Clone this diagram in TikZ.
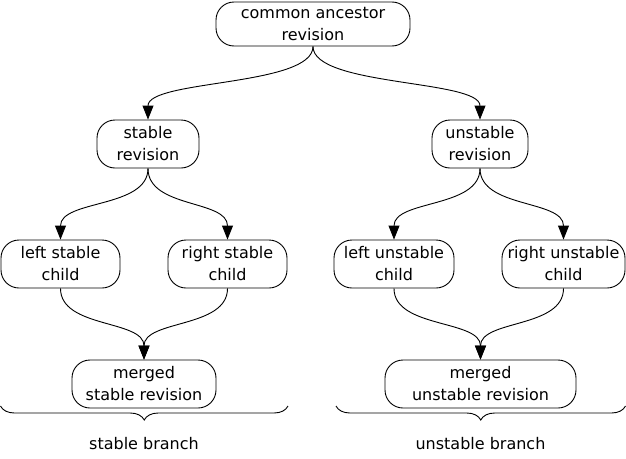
\documentclass[tikz,border=0pt]{standalone}
\usepackage{fontspec}
\setmainfont{DejaVu Sans}
\usetikzlibrary{arrows.meta,decorations.pathreplacing}
\begin{document}
\begin{tikzpicture}[x=1pt,y=-1pt,line width=0.9pt,
  box/.style={draw,rounded corners=18pt,align=center,inner sep=0pt,font=\fontsize{16}{22}\selectfont},
  arr/.style={-{Triangle[width=11pt,length=14pt]}},
  lbl/.style={font=\fontsize{16}{22}\selectfont}]
\useasboundingbox (0,0) rectangle (626,458);
\node[box,minimum width=194,minimum height=44] (ca) at (313,24) {common ancestor\\revision};
\node[box,minimum width=102,minimum height=48] (sr) at (148,144) {stable\\revision};
\node[box,minimum width=96,minimum height=48] (ur) at (480,144) {unstable\\revision};
\node[box,minimum width=119,minimum height=48] (ls) at (60.5,264) {left stable\\child};
\node[box,minimum width=119,minimum height=48] (rs) at (227.5,264) {right stable\\child};
\node[box,minimum width=120,minimum height=48] (lu) at (394,264) {left unstable\\child};
\node[box,minimum width=123,minimum height=48] (ru) at (563.5,264) {right unstable\\child};
\node[box,minimum width=144,minimum height=48] (ms) at (144,384) {merged\\stable revision};
\node[box,minimum width=191,minimum height=48] (mu) at (480.5,384) {merged\\unstable revision};
\foreach \a/\b in {ca/sr,ca/ur,sr/ls,sr/rs,ur/lu,ur/ru,ls/ms,rs/ms,lu/mu,ru/mu}
  \draw[arr] (\a.south) .. controls +(0,40) and +(0,-40) .. (\b.north);
\draw[decorate,decoration={brace,mirror,amplitude=14pt,aspect=0.5}] (0.5,406) -- (288,406);
\draw[decorate,decoration={brace,mirror,amplitude=14pt,aspect=0.5}] (336,406) -- (625.5,406);
\node[lbl] (sb) at (144,444) {stable branch};
\node[lbl] (ub) at (480.5,444) {unstable branch};
\end{tikzpicture}
\end{document}
